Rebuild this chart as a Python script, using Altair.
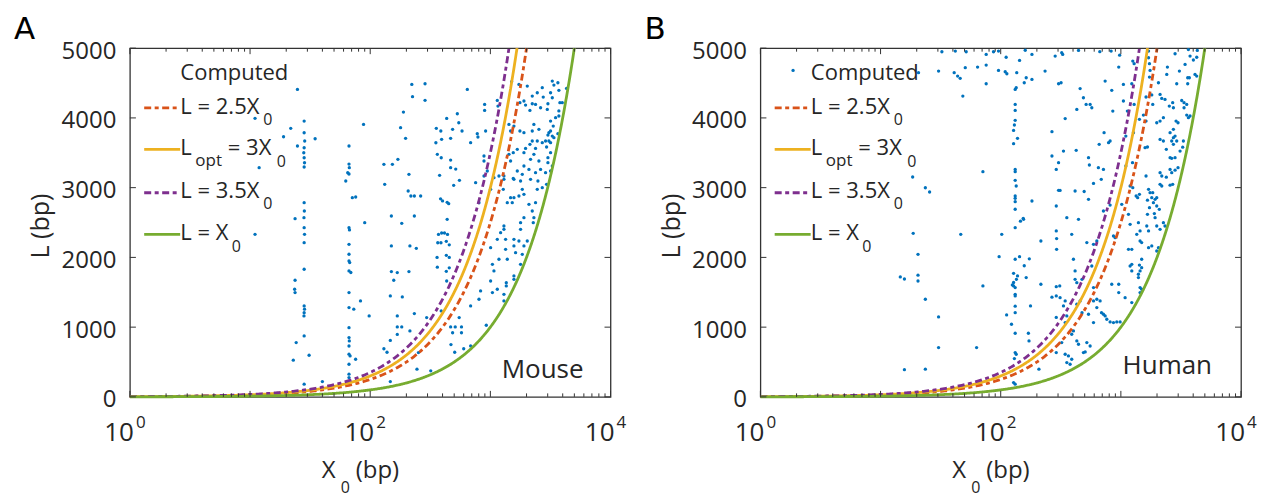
import numpy as np
import pandas as pd
import altair as alt

FONT = "Open Sans"
TXT = "#262626"
FRAME = "#333333"
BLUE = "#0072BD"
W, H = 481, 349

# ---------------- data (X0 in bp, L in bp) ----------------
mouse_points = [
    (11.0, 3994), (11.9, 3286), (11.0, 2331),
    (24.8, 4409), (21.8, 3850), (28.2, 3955), (19.0, 3730), (24.8, 3597), (34.8, 3701),
    (23.7, 2555), (24.2, 778), (31.0, 597), (22.9, 526), (40.0, 219),
    (23.7, 1672), (23.5, 1543), (23.7, 1495),
    (28.2, 3787), (28.5, 3669), (28.2, 3572), (28.0, 3500), (28.2, 3429), (28.4, 3357), (28.2, 3296),
    (28.2, 2784), (28.3, 2665), (28.1, 2570), (28.2, 2426), (28.4, 2331), (28.2, 2211), (28.2, 1830),
    (28.2, 1304), (28.4, 1257), (28.2, 1208), (28.1, 1161), (28.2, 874), (28.2, 182),
    (66.6, 3597), (66.6, 3338), (67.0, 3286), (65.0, 3214), (66.6, 3196), (62.6, 3095),
    (71.0, 2856), (75.7, 2866), (66.6, 2426), (67.2, 2394), (66.6, 2188), (66.6, 2045), (66.6, 1950),
    (67.5, 1926), (66.6, 1806), (69.0, 1783), (66.6, 1495), (66.6, 1280), (73.0, 1257), (66.6, 993),
    (66.6, 850), (67.0, 802), (66.6, 730), (66.6, 612), (68.0, 588), (66.6, 468), (75.6, 540),
    (66.6, 325), (66.6, 277),
    (88, 3907), (90, 2498), (83, 1376), (98, 1161),
    (130, 3335), (153, 3335), (132, 3048), (170, 3406), (150, 2594), (183, 2489), (150, 2164),
    (150, 1796), (168, 1782), (157, 1672), (147, 1447), (185, 1433), (168, 1161), (168, 1003),
    (183, 1003), (168, 896), (147, 810), (130, 690), (138, 640), (147, 219),
    (179, 3860), (189, 4084), (197, 3707), (210, 3191), (207, 2952), (218, 2880), (233, 2880),
    (263, 2880), (233, 2594), (214, 2164), (242, 2130), (210, 1796), (233, 1194), (214, 946),
    (222, 4480), (286, 4490), (286, 4252), (225, 4304), (252, 635), (245, 397), (295, 1137), (319, 373),
    (355, 3850), (387, 3812), (393, 3693), (352, 3644), (467, 3707), (433, 3993), (531, 4060),
    (546, 3931), (485, 3836), (581, 3812), (643, 4409),
    (362, 3478), (390, 3429), (467, 3396), (467, 3286), (515, 3266), (553, 3105), (378, 3177), (495, 3033),
    (385, 2840), (400, 2810), (437, 2790), (450, 2770), (437, 2546),
    (370, 2330), (393, 2350), (415, 2350), (440, 2330), (365, 2210), (388, 2210), (430, 2230), (455, 2180),
    (430, 2030), (455, 2000), (360, 2000), (455, 1850), (362, 1860), (430, 1800), (433, 1662), (390, 1232),
    (467, 1003), (510, 1003), (550, 1137), (575, 1003), (485, 920), (575, 920), (505, 640), (470, 750),
    (600, 690),
    (896, 4194), (896, 4108), (1142, 4251), (1157, 4170), (913, 3812), (778, 3774), (788, 3726), (685, 3645),
    (1729, 4480), (2028, 4457), (1503, 4519), (1762, 4218), (1903, 4242), (1963, 4184), (2232, 4313),
    (2457, 4361), (2704, 4433), (2755, 4299), (3276, 4528), (3379, 4471), (3648, 4504), (3717, 4395),
    (3170, 4361), (3276, 4289), (3013, 4203), (2377, 4194), (2232, 4203), (2618, 4146), (2977, 4122),
    (3791, 4218), (3966, 4218), (4305, 4423), (3717, 4100), (2134, 4108), (1428, 3907), (1571, 3883),
    (1473, 3812), (1762, 3812), (1903, 3788), (2232, 3812), (2535, 3836), (2303, 3907), (3170, 3955),
    (3490, 4003), (3717, 4027), (3337, 3883), (3170, 3812), (3070, 3788), (3013, 3754), (3276, 3740),
    (3379, 3716), (3648, 3774), (2880, 3669), (3070, 3669), (3170, 3645), (2937, 3583), (2704, 3645),
    (2457, 3669), (2232, 3669), (2134, 3621), (2377, 3563), (1963, 3563), (1903, 3501), (1675, 3549),
    (1551, 3501), (1428, 3478), (1473, 3382), (2303, 3478), (2160, 3406), (2535, 3382), (3170, 3501),
    (3013, 3430), (3013, 3358), (3276, 3310), (3170, 3239), (2880, 3215), (2618, 3262), (2377, 3215),
    (2094, 3262), (1903, 3310), (1675, 3239), (1571, 3119), (1844, 3191), (1784, 3095), (1297, 3167),
    (1179, 3167), (1071, 3143), (1297, 3119), (1005, 2976), (1281, 2976), (1551, 3133), (2160, 3119),
    (2488, 3095), (2704, 3000), (2937, 3048), (2457, 2976), (1844, 2976), (1473, 2857), (1571, 2857),
    (1729, 2880), (1903, 2904), (1383, 2785), (1521, 2785), (2094, 2761), (2377, 2785), (2232, 2665),
    (1903, 2570), (2303, 2570), (2275, 2498), (1784, 2498), (1297, 2450), (804, 2785), (885, 3167),
    (943, 3239), (885, 3454), (754, 3071), (885, 3382),
    (1297, 2403), (1217, 2355), (1784, 2403), (1142, 2259), (1339, 2259), (1571, 2259), (1729, 2235),
    (2028, 2235), (1005, 2140), (1339, 2116), (1571, 2164), (1903, 2164), (1621, 2068), (1844, 2044),
    (1179, 1973), (1383, 1973), (1040, 1901), (1784, 1901), (1071, 1806), (1571, 1734), (1571, 1686),
    (1005, 1662), (1357, 1638), (1357, 1591), (1142, 1543), (1040, 1495), (1297, 1471), (829, 1519),
    (804, 1400), (1297, 1376), (685, 1304), (925, 1027), (685, 731),
]

human_points = [
    (32.4, 4949), (41.9, 4958), (51.6, 4949), (75.7, 4910), (87.1, 4949), (95.9, 4958), (111, 4870),
    (143.5, 4824), (160, 4970), (182, 4910), (284, 4887),
    (20.7, 4648), (30.4, 4672), (41.0, 4648), (43.8, 4600), (46.0, 4567), (50.7, 4720), (64.2, 4729),
    (75.7, 4758), (95.9, 4681), (109, 4662), (112.5, 4633), (136, 4648), (163, 4576), (182, 4552),
    (234, 4672), (157, 4504), (134.6, 4433), (132, 4409), (75.7, 4490), (48.4, 4313), (303, 4490),
    (132, 4194), (132, 4108), (132, 3965), (130, 3898), (128, 3821), (138, 3707), (128, 3630), (267, 3802),
    (267, 3454), (290, 3262), (303, 3358), (71.1, 3229), (132, 3262), (132, 3229), (132, 3105),
    (134.6, 3024), (132, 2880), (132, 2847), (132, 2799), (132, 2690), (182, 2809), (290, 2737),
    (303, 2962), (18.5, 3153), (23.6, 2999), (25.6, 2938), (155, 2546),
    (18.7, 2345), (46.5, 2331), (102, 2331), (132, 2426), (146, 2520), (154, 2560), (290, 2379),
    (292, 2270), (216, 2235), (292, 2116), (20.5, 2044), (97, 2011), (132, 1973), (143.5, 2011),
    (173, 1980), (157, 1880), (14.6, 1720), (15.8, 1690), (20.5, 1745), (20.5, 1662), (128, 1772),
    (138, 1734), (135, 1686), (163, 1710), (71.1, 1591), (125, 1605), (128, 1591), (132, 1567),
    (128, 1640), (216, 1615), (290, 1580), (310, 1591), (132, 1470), (132, 1447), (267, 1430),
    (290, 1447), (23.6, 1400), (132, 1300), (177, 1304), (132, 1208), (112, 1175), (290, 1140),
    (30.4, 1146), (123, 1041), (132, 912), (170, 912), (172, 802), (30.4, 707), (63, 707), (132, 635),
    (134.6, 611), (130, 549), (290, 635), (15.8, 390), (23.6, 397), (208, 397), (128, 205), (132, 182),
    (322, 4934), (328, 4910), (444, 4968), (668, 4950), (830, 4958), (977, 4900), (1700, 4958),
    (1700, 4863), (2826, 4920), (3648, 4980), (4330, 4968), (3766, 4887), (4014, 4830), (4279, 4870),
    (960, 4729), (1257, 4815), (1290, 4777), (1730, 4777), (1750, 4681), (2440, 4729), (2409, 4624),
    (3070, 4672), (3423, 4767), (3716, 4576), (3600, 4576), (4140, 4624), (4279, 4600),
    (318, 4504), (740, 4528), (1050, 4480), (1233, 4490), (1730, 4586), (2055, 4504), (2917, 4490),
    (3600, 4490), (458, 4420), (840, 4395), (1050, 4242), (1290, 4194), (1620, 4300), (2190, 4280),
    (2330, 4265), (2700, 4218), (2530, 4170), (2737, 4146), (3210, 4250), (3356, 4218), (3533, 4194),
    (3356, 4146), (1808, 4330), (2120, 4337), (488, 4289), (514, 4194), (555, 4194), (573, 4146),
    (430, 4122), (344, 3990), (857, 4098), (1133, 4098), (1842, 4194), (1427, 3979), (1541, 4040),
    (1620, 3955), (1989, 3931), (2120, 3955), (2259, 4003), (2880, 3955), (2990, 3931), (3533, 4040),
    (3650, 4003), (3766, 4027), (2737, 3836), (2568, 3788), (2825, 3740), (2737, 3716), (2120, 3692),
    (2259, 3669), (2650, 3669), (2917, 3669), (2737, 3621), (3315, 3669), (3270, 3580), (333, 3525),
    (425, 3535), (660, 3621), (790, 3645), (814, 3669), (725, 3788), (1100, 3740), (1273, 3788),
    (1590, 3573), (1665, 3583), (2390, 3549), (3110, 3525), (2568, 3430), (2650, 3420), (2825, 3430),
    (538, 3430), (547, 3325), (650, 3286), (716, 3262), (1100, 3310), (1250, 3358), (2120, 3215),
    (2190, 3167), (2390, 3150), (1620, 3167), (2568, 3262), (2650, 3215), (2990, 3286), (2825, 3250),
    (592, 3060), (687, 3119), (312, 2960), (416, 2952), (495, 2945), (538, 2833), (716, 2665),
    (814, 2750), (1194, 3024), (1257, 3000), (1340, 2880), (1380, 2857), (1427, 2904), (1700, 2976),
    (1750, 2928), (1842, 2928), (1927, 2833), (1989, 2857), (1808, 2857), (1866, 2785), (2120, 3048),
    (2190, 3024), (2568, 3036), (2700, 3048), (1665, 2821), (1730, 2713), (1989, 2737), (2090, 2689),
    (1665, 2618), (1900, 2628), (1157, 2618), (1017, 2761),
    (355, 2570), (444, 2546), (1194, 2474), (1400, 2498), (1445, 2379), (1356, 2331), (1700, 2379),
    (1643, 2450), (1927, 2570), (1989, 2450), (2120, 2403), (2259, 2498), (2330, 2450), (390, 2331),
    (631, 2235), (592, 2188), (521, 2212), (868, 2307), (896, 2283), (1157, 2116), (1233, 2116),
    (1445, 2235), (1490, 2212), (1700, 2140), (1808, 2164), (2055, 2140), (1989, 2092), (1490, 1973),
    (1194, 1877), (1233, 1901), (1427, 1890), (1490, 1853), (1445, 1806), (1400, 1758), (1400, 1710),
    (1233, 1806), (403, 1973), (416, 1806), (573, 1877), (592, 1567), (416, 1686), (430, 1638),
    (475, 1686), (840, 1615), (960, 1615), (960, 1495), (1085, 1423), (1445, 1567), (1490, 1543),
    (1445, 1495), (1233, 1352), (344, 1376), (333, 1304), (312, 1423), (430, 1328), (458, 1376),
    (475, 1208), (538, 1185), (592, 1376), (631, 1400), (672, 1376), (631, 1280), (690, 1208),
    (716, 1185), (740, 1161), (764, 1113), (814, 1075), (868, 1065), (925, 1075), (986, 1075),
    (592, 1065), (355, 1161), (344, 1065), (403, 946), (390, 898), (430, 802), (444, 755), (521, 779),
    (555, 730), (322, 779), (344, 611), (366, 588), (390, 540), (355, 492), (378, 468), (488, 635),
    (505, 645),
]

curve_names = ["L = 2.5X0", "Lopt = 3X0", "L = 3.5X0", "L = X0"]
curve_factors = [2.5, 3.0, 3.5, 1.0]
curve_colors = ["#D95319", "#EDB120", "#7E2F8E", "#77AC30"]
curve_dashes = [[7, 3.5, 4, 3.5], [1, 0], [7, 3.5, 4, 3.5], [1, 0]]

x_major_ticks = [1, 10, 100, 1000, 10000]
x_minor_ticks = [m * d for d in [1, 10, 100, 1000] for m in range(2, 10)]
y_ticks = [0, 1000, 2000, 3000, 4000, 5000]
x_label_values = [1, 100, 10000]
x_label_exponents = ["0", "2", "4"]

# ---------------- curves L = k * X0 (drawn up to the top of the axis) ----------------
rows = []
for name, k in zip(curve_names, curve_factors):
    for xv in np.logspace(0, np.log10(5000.0 / k), 240):
        rows.append({"series": name, "x0": float(xv), "L": float(k * xv)})
curves = pd.DataFrame(rows)

xscale = alt.Scale(type="log", domain=[1, 10000])
yscale = alt.Scale(domain=[0, 5000], nice=False, zero=False)
yaxis = alt.Axis(values=y_ticks, format="d", ticks=False, tickSize=0, domain=False, grid=False,
                 labelFont=FONT, labelFontSize=24, labelColor=TXT, labelPadding=14,
                 labelOffset=3, title=None)


def X(f):
    return alt.X(f, type="quantitative", scale=xscale, axis=None)


def Y(f):
    return alt.Y(f, type="quantitative", scale=yscale, axis=yaxis)


one = pd.DataFrame({"d": [0]})


def txt(s, x, y, size, color=TXT, align="left", baseline="alphabetic", angle=0, font=FONT):
    return alt.Chart(one).mark_text(
        text=s, font=font, fontSize=size, color=color, align=align,
        baseline=baseline, angle=angle
    ).encode(x=alt.value(x), y=alt.value(y))


def panel(points, letter, species, sp_right, sp_base, show_dot):
    pts = pd.DataFrame(points, columns=["x0", "L"])
    layers = []
    layers.append(alt.Chart(pts).mark_circle(size=11, color=BLUE, opacity=1).encode(
        x=X("x0"), y=Y("L")))
    layers.append(alt.Chart(curves).mark_line(strokeWidth=2.8).encode(
        x=X("x0"), y=Y("L"),
        color=alt.Color("series:N", scale=alt.Scale(domain=curve_names, range=curve_colors), legend=None),
        strokeDash=alt.StrokeDash("series:N", scale=alt.Scale(domain=curve_names, range=curve_dashes), legend=None),
    ))
    # inward ticks on all four sides
    maj = pd.DataFrame({"v": x_major_ticks})
    mnr = pd.DataFrame({"v": x_minor_ticks})
    yt = pd.DataFrame({"v": y_ticks})
    for df, ln in [(maj, 6), (mnr, 3.5)]:
        layers.append(alt.Chart(df).mark_rule(color=FRAME, strokeWidth=1).encode(
            x=X("v"), y=alt.value(H), y2=alt.value(H - ln)))
        layers.append(alt.Chart(df).mark_rule(color=FRAME, strokeWidth=1).encode(
            x=X("v"), y=alt.value(0), y2=alt.value(ln)))
    layers.append(alt.Chart(yt).mark_rule(color=FRAME, strokeWidth=1).encode(
        y=Y("v"), x=alt.value(0), x2=alt.value(6)))
    layers.append(alt.Chart(yt).mark_rule(color=FRAME, strokeWidth=1).encode(
        y=Y("v"), x=alt.value(W), x2=alt.value(W - 6)))

    # x tick labels 10^n
    lab = pd.DataFrame({"v": x_label_values, "e": x_label_exponents})
    layers.append(alt.Chart(lab).mark_text(text="10", font=FONT, fontSize=26, color=TXT,
                                           align="right", baseline="alphabetic", dx=4).encode(
        x=X("v"), y=alt.value(H + 44)))
    layers.append(alt.Chart(lab).mark_text(font=FONT, fontSize=17, color=TXT,
                                           align="left", baseline="alphabetic", dx=6).encode(
        x=X("v"), y=alt.value(H + 31), text="e:N"))

    # axis titles
    layers.append(txt("X", 192, 429.7, 24))
    layers.append(txt("0", 211, 445.5, 16))
    layers.append(txt("(bp)", 226, 429.7, 24))
    layers.append(txt("L (bp)", -88.5, 178, 25, align="center", baseline="middle", angle=270))

    # panel letter and species
    layers.append(txt(letter, -116, -9.5, 31, color="#000000", font="DejaVu Sans"))
    layers.append(txt(species, sp_right, sp_base, 26, align="right"))

    # legend
    if show_dot:
        layers.append(alt.Chart(one).mark_circle(size=11, color=BLUE, opacity=1).encode(
            x=alt.value(32.7), y=alt.value(22.3)))
    layers.append(txt("Computed", 50.5, 32.3, 22))
    line_y = [59.7, 101.3, 144.7, 186.3]
    for yy, c, d in zip(line_y, curve_colors, curve_dashes):
        layers.append(alt.Chart(one).mark_rule(color=c, strokeWidth=2.8, strokeDash=d).encode(
            x=alt.value(14.3), x2=alt.value(50.3), y=alt.value(yy)))
    layers.append(txt("L = 2.5X", 50.5, 65.7, 22))
    layers.append(txt("0", 133.5, 77, 16))
    layers.append(txt("L", 50.5, 107.3, 22))
    layers.append(txt("opt", 65.5, 117.5, 17))
    layers.append(txt("= 3X", 98, 107.3, 22))
    layers.append(txt("0", 147, 119, 16))
    layers.append(txt("L = 3.5X", 50.5, 149.7, 22))
    layers.append(txt("0", 133.5, 161, 16))
    layers.append(txt("L = X", 50.5, 192.3, 22))
    layers.append(txt("0", 102, 204, 16))

    return alt.layer(*layers).properties(width=W, height=H)


pa = panel(mouse_points, "A", "Mouse", 454, 330, False)
pb = panel(human_points, "B", "Human", 452, 326.3, True)

chart = alt.hconcat(pa, pb, spacing=150, bounds="flush").properties(
    padding={"left": 5, "top": 4, "right": 0, "bottom": 0},
    background="white",
).configure_view(stroke=FRAME, strokeWidth=1.3)

chart.save("out.html", embed_options={"renderer": "svg", "actions": False})
